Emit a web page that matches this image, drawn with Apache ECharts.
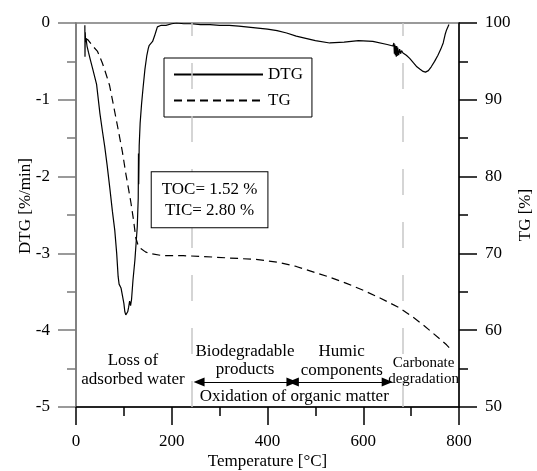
<!DOCTYPE html>
<html>
<head>
<meta charset="utf-8">
<script src="https://cdn.jsdelivr.net/npm/echarts@6/dist/echarts.min.js"></script>
<style>
	html, body { margin: 0; padding: 0; background: #fff; }
	#chart { width: 537px; height: 471px; }
</style>
</head>
<body>
<div id="chart"></div>
<script>
const FONT = "Liberation Serif"

// temperature [°C], DTG [%/min]
const dtgData = [
	[18.5, -0.03], [18.8, -0.44], [19.3, -0.12], [20, -0.25], [21, -0.2], [23, -0.3], [26, -0.38], [30, -0.48],
	[35, -0.6], [43, -0.8], [50, -1.18], [55, -1.4], [60, -1.61], [65, -1.85], [71, -2.17], [76, -2.45],
	[81, -2.7], [85, -3.0], [88, -3.3], [90, -3.4], [92, -3.38], [94, -3.45], [97, -3.55], [100, -3.65],
	[102, -3.76], [104, -3.8], [106, -3.78], [108, -3.76], [110, -3.7], [112, -3.62], [114, -3.68], [116, -3.6],
	[119, -3.35], [123, -3.09], [128, -2.65], [130, -2.28], [130.5, -1.7], [131, -2.1], [132, -1.6], [134, -1.3],
	[137, -1.05], [140, -0.85], [144, -0.6], [148, -0.42], [151, -0.33], [153, -0.29], [156, -0.27], [160, -0.24],
	[164, -0.17], [167, -0.11], [170, -0.05], [178, -0.03], [188, -0.03], [200, -0.01], [210, 0], [225, -0.01],
	[240, -0.01], [260, -0.02], [280, -0.02], [300, -0.03], [320, -0.03], [340, -0.04], [370, -0.06], [400, -0.08],
	[420, -0.1], [440, -0.13], [460, -0.17], [480, -0.2], [500, -0.23], [530, -0.26], [560, -0.25], [590, -0.23],
	[620, -0.24], [650, -0.28], [662, -0.3], [664, -0.26], [665, -0.4], [666, -0.28], [667, -0.42], [668, -0.3],
	[669, -0.44], [670, -0.3], [671, -0.43], [672, -0.32], [674, -0.42], [676, -0.34], [678, -0.4], [680, -0.36],
	[683, -0.39], [690, -0.42], [697, -0.46], [705, -0.52], [712, -0.57], [718, -0.6], [725, -0.63], [730, -0.64],
	[736, -0.62], [742, -0.57], [749, -0.5], [756, -0.42], [762, -0.34], [767, -0.26], [771, -0.15], [774, -0.09],
	[779, -0.02]
]

// temperature [°C], TG [%]
const tgData = [
	[19, 98.0], [25, 97.8], [35, 97.0], [45, 96.3], [55, 94.8], [63, 93.3], [70, 91.9], [77, 89.7],
	[83.5, 87.6], [90, 85.5], [97, 83.2], [104, 80.4], [110, 78.3], [115, 76.5], [120, 74.4], [125, 72.0],
	[130, 71.0], [136, 70.6], [145, 70.2], [153, 70.0], [181, 69.7], [224, 69.7], [264, 69.6], [321, 69.4],
	[380, 69.2], [426, 68.8], [460, 68.3], [495, 67.6], [530, 66.9], [565, 66.1], [600, 65.2], [635, 64.2],
	[676, 62.9], [704, 61.7], [725, 60.7], [746, 59.6], [774, 58.1], [780, 57.7]
]

const xTicks = [0, 200, 400, 600, 800]
const dtgTicks = [-5, 0]
const tgTicks = [50, 100]

// region borders and arrows (°C, DTG)
const borders = [242, 682]
const arrows = [[257, 451], [454, 650]]
const arrowLevel = -4.675

// annotations: text, position (°C, DTG), font size
const notes = [
	{ text: "Loss of\nadsorbed water", at: [119, -4.52], size: 17, lh: 19 },
	{ text: "Biodegradable\nproducts", at: [353, -4.40], size: 17, lh: 18 },
	{ text: "Humic\ncomponents", at: [555, -4.40], size: 17, lh: 19 },
	{ text: "Carbonate\ndegradation", at: [726, -4.53], size: 15, lh: 16 },
	{ text: "Oxidation of organic matter", at: [456, -4.865], size: 17, lh: 18 }
]
const infoText = "TOC= 1.52 %\nTIC= 2.80 %"
const infoAt = [279, -2.30]

let option = {
	animation: false,
	textStyle: { fontFamily: FONT },
	grid: {
		left: 76,
		right: 78,
		top: 23,
		bottom: 64,
		outerBoundsMode: "none",
		show: true,
		borderColor: "#7a7a7a",
		borderWidth: 1.5
	},
	legend: {
		orient: "vertical",
		left: 164,
		top: 58,
		padding: [8, 9, 8, 9],
		itemWidth: 89,
		itemHeight: 14,
		itemGap: 9,
		backgroundColor: "#fff",
		borderColor: "#000",
		borderWidth: 1,
		itemStyle: { opacity: 0 },
		textStyle: { fontFamily: FONT, fontSize: 17, color: "#000" },
		data: ["DTG", "TG"]
	},
	xAxis: {
		type: "value",
		min: xTicks[0],
		max: xTicks[xTicks.length - 1],
		interval: 200,
		name: "Temperature [°C]",
		nameLocation: "middle",
		nameGap: 46,
		nameMoveOverlap: false,
		nameTextStyle: { fontFamily: FONT, fontSize: 17, color: "#000" },
		axisLine: { onZero: false, lineStyle: { color: "#000", width: 1.5 } },
		axisTick: { length: 18, lineStyle: { color: "#000", width: 1.5 } },
		minorTick: { show: true, splitNumber: 2, length: 9, lineStyle: { color: "#000", width: 1.5 } },
		axisLabel: { margin: 26, fontFamily: FONT, fontSize: 17, color: "#000" },
		splitLine: { show: false }
	},
	yAxis: [
		{
			type: "value",
			min: dtgTicks[0],
			max: dtgTicks[1],
			interval: 1,
			name: "DTG [%/min]",
			nameLocation: "middle",
			nameGap: 42,
			nameMoveOverlap: false,
			nameTextStyle: { fontFamily: FONT, fontSize: 17, color: "#000", padding: [0, 0, 0, 18] },
			axisLine: { show: true, onZero: false, lineStyle: { color: "#7a7a7a", width: 1.5 } },
			axisTick: { length: 18, lineStyle: { color: "#7a7a7a", width: 1.5 } },
			minorTick: { show: true, splitNumber: 2, length: 9, lineStyle: { color: "#7a7a7a", width: 1.5 } },
			axisLabel: { margin: 26, fontFamily: FONT, fontSize: 17, color: "#000" },
			splitLine: { show: false }
		},
		{
			type: "value",
			position: "right",
			min: tgTicks[0],
			max: tgTicks[1],
			interval: 10,
			name: "TG [%]",
			nameLocation: "middle",
			nameGap: 58,
			nameMoveOverlap: false,
			nameTextStyle: { fontFamily: FONT, fontSize: 17, color: "#000" },
			axisLine: { show: true, onZero: false, lineStyle: { color: "#000", width: 1.5 } },
			axisTick: { length: 18, lineStyle: { color: "#000", width: 1.5 } },
			minorTick: { show: true, splitNumber: 2, length: 9, lineStyle: { color: "#000", width: 1.5 } },
			axisLabel: { margin: 26, fontFamily: FONT, fontSize: 17, color: "#000" },
			splitLine: { show: false }
		}
	],
	series: [
		{
			name: "DTG",
			type: "line",
			yAxisIndex: 0,
			data: dtgData,
			symbol: "none",
			z: 3,
			lineStyle: { color: "#000", width: 1.2 },
			itemStyle: { color: "#000" },
			markLine: {
				silent: true,
				symbol: ["triangle", "triangle"],
				symbolSize: [9, 11],
				label: { show: false },
				lineStyle: { color: "#000", width: 1.2, type: "solid" },
				data: arrows.map(a => [{ coord: [a[0], arrowLevel] }, { coord: [a[1], arrowLevel] }])
			}
		},
		{
			name: "TG",
			type: "line",
			yAxisIndex: 1,
			data: tgData,
			symbol: "none",
			z: 3,
			lineStyle: { color: "#000", width: 1.2, type: [8, 5] },
			itemStyle: { color: "#000" },
			markLine: {
				silent: true,
				symbol: "none",
				label: { show: false },
				lineStyle: { color: "#c8c8c8", width: 1.5, type: [26, 27] },
				data: borders.map(b => ({ xAxis: b }))
			}
		}
	]
}

const chart = echarts.init(document.getElementById("chart"))
chart.setOption(option)

// annotations are placed from data coordinates
const toPx = at => chart.convertToPixel({ xAxisIndex: 0, yAxisIndex: 0 }, at)
let graphics = notes.map(n => {
	const p = toPx(n.at)
	return {
		type: "text",
		x: p[0],
		y: p[1],
		z: 50,
		silent: true,
		style: {
			text: n.text,
			font: n.size + "px '" + FONT + "'",
			lineHeight: n.lh,
			fill: "#000",
			align: "center",
			verticalAlign: "middle"
		}
	}
})
const ip = toPx(infoAt)
graphics.push({
	type: "text",
	x: ip[0],
	y: ip[1],
	z: 50,
	silent: true,
	style: {
		text: infoText,
		font: "17px '" + FONT + "'",
		lineHeight: 21,
		fill: "#000",
		align: "center",
		verticalAlign: "middle",
		backgroundColor: "#fff",
		borderColor: "#000",
		borderWidth: 1,
		padding: [7, 10, 6, 10]
	}
})
chart.setOption({ graphic: graphics })
</script>
</body>
</html>
